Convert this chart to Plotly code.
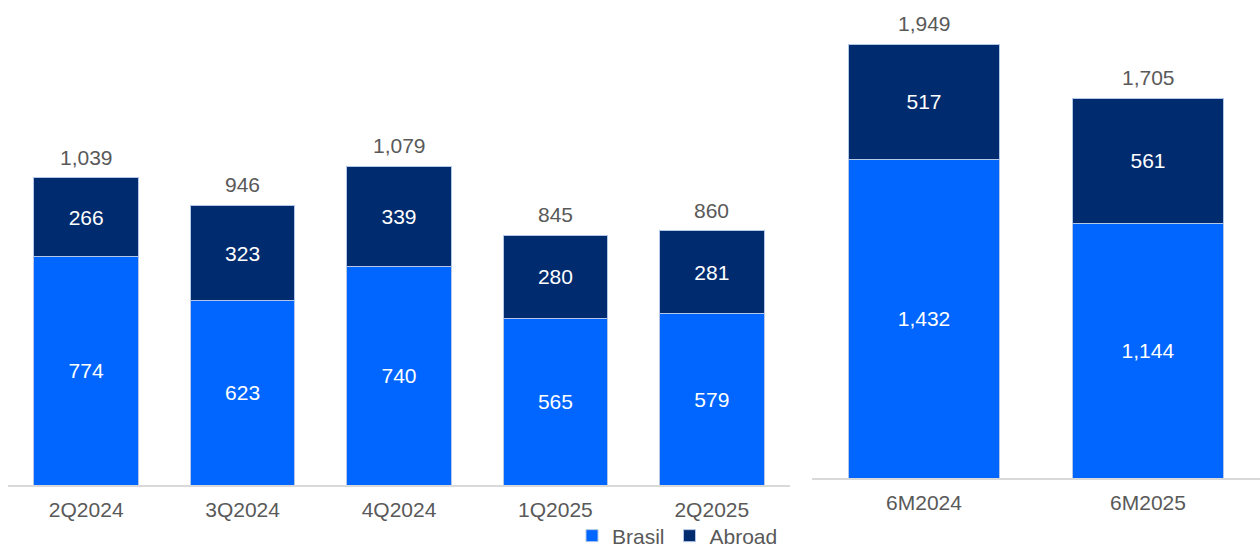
import plotly.graph_objects as go

# Quarterly figures
quarters = ["2Q2024", "3Q2024", "4Q2024", "1Q2025", "2Q2025"]
q_brasil = [774, 623, 740, 565, 579]
q_abroad = [266, 323, 339, 280, 281]
q_total = [1039, 946, 1079, 845, 860]

# Semester (6M) figures
semesters = ["6M2024", "6M2025"]
s_brasil = [1432, 1144]
s_abroad = [517, 561]
s_total = [1949, 1705]

BRASIL_COLOR = "#0066FF"
ABROAD_COLOR = "#002B6E"
EDGE_COLOR = "#B4C7E7"
TEXT_GRAY = "#595959"
FONT = "Liberation Sans, Arial, sans-serif"
FS = 21


def fmt(v):
    return f"{v:,}"


fig = go.Figure()

for cats, br, ab, xa, ya, show in [
    (quarters, q_brasil, q_abroad, "x", "y", True),
    (semesters, s_brasil, s_abroad, "x2", "y2", False),
]:
    fig.add_trace(go.Bar(
        x=cats, y=br, name="Brasil", xaxis=xa, yaxis=ya,
        marker=dict(color=BRASIL_COLOR, line=dict(color=EDGE_COLOR, width=1)),
        text=[fmt(v) for v in br], textposition="inside",
        insidetextanchor="middle", constraintext="none",
        textfont=dict(color="white", size=FS, family=FONT),
        showlegend=show, legendgroup="br", hoverinfo="skip",
    ))
    fig.add_trace(go.Bar(
        x=cats, y=ab, name="Abroad", xaxis=xa, yaxis=ya,
        marker=dict(color=ABROAD_COLOR, line=dict(color=EDGE_COLOR, width=1)),
        text=[fmt(v) for v in ab], textposition="inside",
        insidetextanchor="middle", constraintext="none",
        textfont=dict(color="white", size=FS, family=FONT),
        showlegend=show, legendgroup="ab", hoverinfo="skip",
    ))

annotations = []
for cats, tots, xr, yr in [(quarters, q_total, "x", "y"), (semesters, s_total, "x2", "y2")]:
    for c, t in zip(cats, tots):
        annotations.append(dict(
            x=c, y=t, xref=xr, yref=yr, text=fmt(t), showarrow=False,
            yanchor="bottom", yshift=7,
            font=dict(color=TEXT_GRAY, size=FS, family=FONT),
        ))

W, H = 1260, 550
axis_common = dict(
    showline=True, linecolor="#D9D9D9", linewidth=2, ticks="",
    showgrid=False, zeroline=False, ticklabelstandoff=5,
    tickfont=dict(color=TEXT_GRAY, size=FS, family=FONT),
)
yaxis_common = dict(visible=False, showgrid=False, zeroline=False, fixedrange=True)

fig.update_layout(
    width=W, height=H,
    margin=dict(l=0, r=0, t=0, b=0, autoexpand=False),
    paper_bgcolor="white", plot_bgcolor="white",
    barmode="stack", bargap=0.33,
    xaxis=dict(domain=[8 / W, 790 / W], anchor="y", **axis_common),
    xaxis2=dict(domain=[812 / W, 1.0], anchor="y2", **axis_common),
    yaxis=dict(domain=[(H - 485) / H, 1.0], range=[0, 485 / (307 / 1039)],
               anchor="x", **yaxis_common),
    yaxis2=dict(domain=[(H - 478) / H, 1.0], range=[0, 478 / (434 / 1949)],
                anchor="x2", **yaxis_common),
    legend=dict(
        orientation="h", x=572 / W, xanchor="left", y=14 / H, yanchor="middle",
        font=dict(color=TEXT_GRAY, size=FS, family=FONT),
        itemwidth=30, tracegroupgap=0, bgcolor="rgba(0,0,0,0)",
    ),
    annotations=annotations,
    font=dict(family=FONT),
)

fig.write_html("out.html")
